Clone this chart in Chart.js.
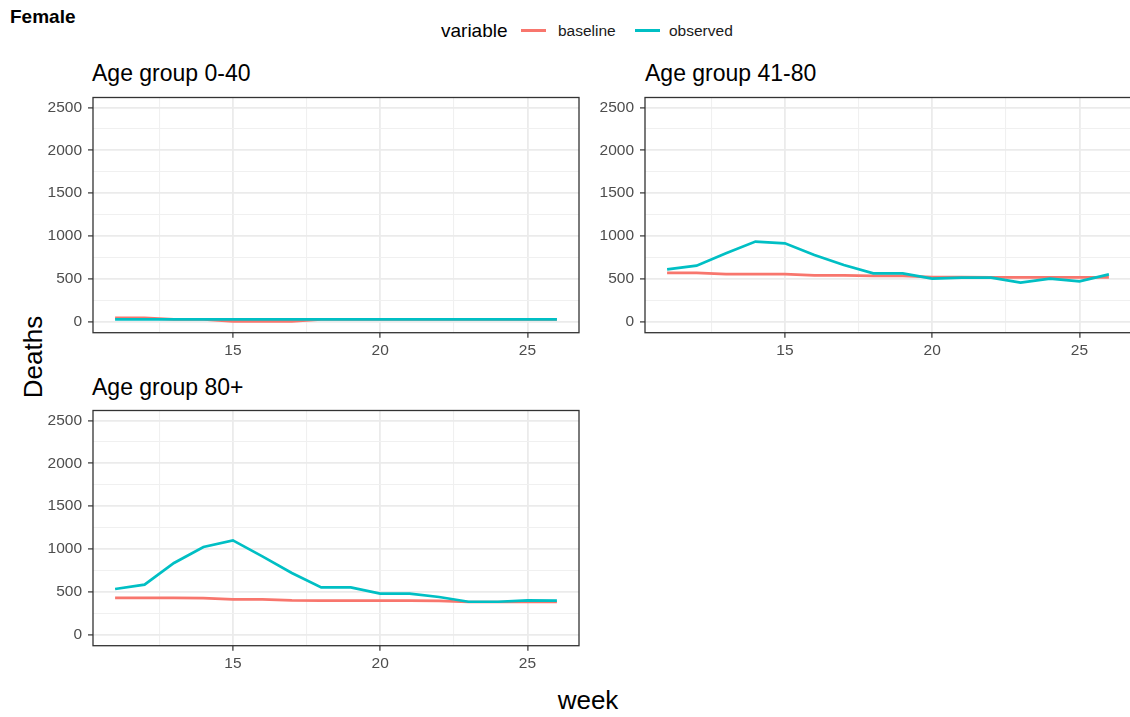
<!DOCTYPE html>
<html>
<head>
<meta charset="utf-8">
<script src="https://cdn.jsdelivr.net/npm/chart.js@4.4.1/dist/chart.umd.min.js"></script>
<style>
  html, body { margin:0; padding:0; background:#fff; width:1130px; height:717px; overflow:hidden; }
  body { position:relative; font-family:"Liberation Sans", Arial, sans-serif; }
  canvas { position:absolute; }
  .t { position:absolute; white-space:nowrap; color:#000; }
</style>
</head>
<body>
<div class="t" style="left:10px;top:5px;font-size:19px;line-height:24px;font-weight:bold;">Female</div>
<div class="t" style="left:441px;top:19px;font-size:19px;line-height:24px;">variable</div>
<div style="position:absolute;left:521px;top:29px;width:25px;height:3px;background:#F8766D;"></div>
<div class="t" style="left:558px;top:21px;font-size:15.5px;line-height:20px;color:#1a1a1a;">baseline</div>
<div style="position:absolute;left:635px;top:29px;width:25px;height:3px;background:#00BFC4;"></div>
<div class="t" style="left:669px;top:21px;font-size:15.5px;line-height:20px;color:#1a1a1a;">observed</div>

<div class="t" id="title0" style="left:92px;top:62px;font-size:23px;line-height:23px;"></div>
<div class="t" id="title1" style="left:645px;top:62px;font-size:23px;line-height:23px;"></div>
<div class="t" id="title2" style="left:92px;top:375.5px;font-size:23px;line-height:23px;"></div>

<div class="t" style="left:33px;top:357px;font-size:26px;line-height:30px;transform:translate(-50%,-50%) rotate(-90deg);">Deaths</div>
<div class="t" style="left:588px;top:700px;font-size:26px;line-height:30px;transform:translate(-50%,-50%);">week</div>

<canvas id="c0" width="600" height="300" style="left:0px;top:60px;width:600px;height:300px;"></canvas>
<canvas id="c1" width="600" height="300" style="left:552px;top:60px;width:600px;height:300px;"></canvas>
<canvas id="c2" width="600" height="300" style="left:0px;top:373.2px;width:600px;height:300px;"></canvas>

<script>
// ---- data ----
const weeks = [11,12,13,14,15,16,17,18,19,20,21,22,23,24,25,26];
const panelTitles = ["Age group 0-40", "Age group 41-80", "Age group 80+"];

const observed_0_40  = [28,28,28,28,28,28,28,28,28,28,28,28,28,28,28,28];
const baseline_0_40  = [45,45,28,28,5,5,5,28,28,28,28,28,28,28,28,28];

const observed_41_80 = [612,654,799,935,915,779,662,565,565,503,514,514,456,503,472,553];
const baseline_41_80 = [570,570,555,555,555,540,540,535,535,520,520,518,518,518,518,518];

const observed_80p   = [534,584,837,1024,1101,915,720,553,552,479,479,440,385,385,401,397];
const baseline_80p   = [430,430,430,428,413,413,400,398,398,398,398,395,382,382,382,382];

const yTicksMajor = [0,500,1000,1500,2000,2500];
const yTicksMinor = [250,750,1250,1750,2250];
const xTicksMajor = [15,20,25];
const xTicksMinor = [12.5,17.5,22.5];

// ---- chart ----
const FONT = '"Liberation Sans", Arial, sans-serif';
const borderPlugin = {
  id: 'panelBorder',
  afterDatasetsDraw(chart) {
    const a = chart.chartArea, ctx = chart.ctx;
    ctx.save();
    ctx.strokeStyle = '#333333';
    ctx.lineWidth = 1.3;
    ctx.strokeRect(a.left, a.top, a.right - a.left, a.bottom - a.top);
    ctx.restore();
  }
};

function isMajor(list, v) { return list.some(m => Math.abs(m - v) < 1e-6); }

function makePanel(id, obs, base) {
  const allY = yTicksMinor.concat(yTicksMajor).sort((a,b)=>a-b);
  const allX = xTicksMinor.concat(xTicksMajor).sort((a,b)=>a-b);
  new Chart(document.getElementById(id), {
    type: 'line',
    data: {
      datasets: [
        { label: 'observed', data: weeks.map((w,i)=>({x:w, y:obs[i]})),
          borderColor: '#00BFC4', backgroundColor: '#00BFC4', borderWidth: 2.7,
          pointRadius: 0, tension: 0, fill: false },
        { label: 'baseline', data: weeks.map((w,i)=>({x:w, y:base[i]})),
          borderColor: '#F8766D', backgroundColor: '#F8766D', borderWidth: 2.7,
          pointRadius: 0, tension: 0, fill: false }
      ]
    },
    options: {
      responsive: false, animation: false, devicePixelRatio: 1,
      layout: { padding: { top: 37.5, right: 21, bottom: 0, left: 0 } },
      plugins: { legend: { display: false }, tooltip: { enabled: false }, title: { display: false } },
      scales: {
        x: {
          type: 'linear', min: 10.25, max: 26.75,
          afterBuildTicks: s => { s.ticks = allX.map(v => ({ value: v })); },
          afterFit: s => { s.height = 27.3; },
          ticks: {
            autoSkip: false, maxRotation: 0, padding: 4, color: '#4D4D4D',
            font: { family: FONT, size: 15.5 },
            callback: v => isMajor(xTicksMajor, v) ? String(v) : ''
          },
          grid: {
            drawTicks: true, tickLength: 5,
            color: c => isMajor(xTicksMajor, c.tick.value) ? '#EBEBEB' : '#F0F0F0',
            lineWidth: c => isMajor(xTicksMajor, c.tick.value) ? 1.8 : 1.1,
            tickColor: c => isMajor(xTicksMajor, c.tick.value) ? '#333333' : 'rgba(0,0,0,0)',
            tickWidth: 1.2
          },
          border: { display: false }
        },
        y: {
          type: 'linear', min: -128, max: 2617,
          afterBuildTicks: s => { s.ticks = allY.map(v => ({ value: v })); },
          afterFit: s => { s.width = 93; },
          ticks: {
            autoSkip: false, padding: 6, color: '#4D4D4D',
            font: { family: FONT, size: 15.5 },
            callback: v => isMajor(yTicksMajor, v) ? String(v) : ''
          },
          grid: {
            drawTicks: true, tickLength: 5,
            color: c => isMajor(yTicksMajor, c.tick.value) ? '#EBEBEB' : '#F0F0F0',
            lineWidth: c => isMajor(yTicksMajor, c.tick.value) ? 1.8 : 1.1,
            tickColor: c => isMajor(yTicksMajor, c.tick.value) ? '#333333' : 'rgba(0,0,0,0)',
            tickWidth: 1.2
          },
          border: { display: false }
        }
      }
    },
    plugins: [borderPlugin]
  });
}

panelTitles.forEach((t,i) => { document.getElementById('title'+i).textContent = t; });
makePanel('c0', observed_0_40, baseline_0_40);
makePanel('c1', observed_41_80, baseline_41_80);
makePanel('c2', observed_80p, baseline_80p);
</script>
</body>
</html>
